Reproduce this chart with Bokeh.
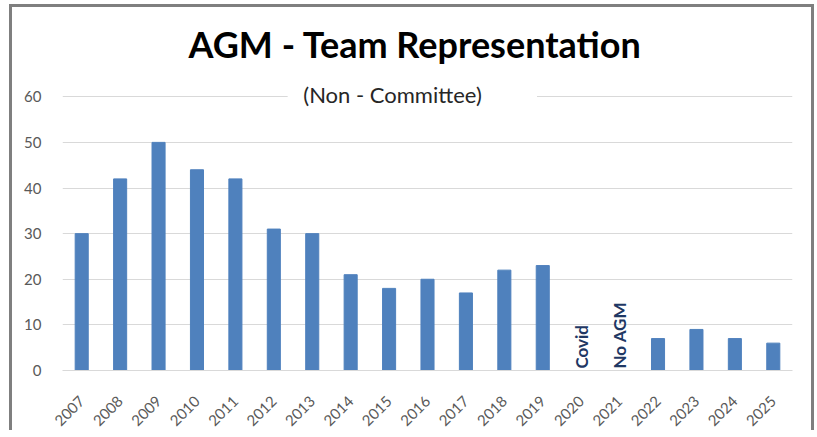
import math
from bokeh.plotting import figure
from bokeh.models import FactorRange, FixedTicker, Label, BoxAnnotation, ColumnDataSource
from bokeh.core.properties import value
from bokeh.embed import file_html
from bokeh.resources import INLINE

years = ["2007", "2008", "2009", "2010", "2011", "2012", "2013", "2014", "2015", "2016",
         "2017", "2018", "2019", "2020", "2021", "2022", "2023", "2024", "2025"]
teams = [30, 42, 50, 44, 42, 31, 30, 21, 18, 20, 17, 22, 23, 0, 0, 7, 9, 7, 6]
note_years = ["2020", "2021"]
note_texts = ["Covid", "No AGM"]
y_ticks = [0, 10, 20, 30, 40, 50, 60]

FONT = "Lato"

p = figure(width=805, height=426, x_range=FactorRange(*years, range_padding=0),
           y_range=(0, 64), output_backend="svg", toolbar_location=None,
           min_border_left=50, min_border_right=25, min_border_top=69, min_border_bottom=60)
p.styles = {"border-left": "3px solid #7f7f7f", "border-top": "3px solid #7f7f7f",
            "border-right": "3px solid #7f7f7f", "box-sizing": "border-box",
            "margin-left": "9px", "margin-top": "4px"}
p.outline_line_color = None
p.background_fill_color = "white"
p.border_fill_color = "white"

p.title.text = "AGM - Team Representation"
p.title.align = "left"
p.title.offset = 126
p.title.text_font = FONT
p.title.text_font_style = "bold"
p.title.text_font_size = "36px"
p.title.text_color = "black"
p.title.standoff = 25

src = ColumnDataSource(dict(x=years, top=teams))
p.vbar(x="x", top="top", width=0.34, source=src, color="#4f81bd")

notes = ColumnDataSource(dict(x=note_years, y=[0, 0], t=note_texts))
p.text(x="x", y="y", text="t", source=notes, angle=math.pi / 2, text_align="left",
       text_baseline="middle", y_offset=-2, text_font=value(FONT), text_font_style="bold",
       text_font_size="17px", text_color="#1f3864")

p.xgrid.grid_line_color = None
p.ygrid.grid_line_color = "#d9d9d9"
p.ygrid.grid_line_width = 1
p.yaxis.ticker = FixedTicker(ticks=y_ticks)
p.yaxis.axis_line_color = None
p.yaxis.major_tick_line_color = None
p.yaxis.minor_tick_line_color = None
p.yaxis.major_label_text_font = FONT
p.yaxis.major_label_text_font_size = "15px"
p.yaxis.major_label_text_color = "#595959"
p.yaxis.major_label_standoff = 15

p.xaxis.axis_line_color = "#d9d9d9"
p.xaxis.major_tick_line_color = None
p.xaxis.minor_tick_line_color = None
p.xaxis.major_label_orientation = math.pi / 4
p.xaxis.major_label_text_font = FONT
p.xaxis.major_label_text_font_size = "15px"
p.xaxis.major_label_text_color = "#595959"
p.xaxis.major_label_standoff = 22

gap = BoxAnnotation(left=5.86, right=12.35, bottom=59.3, top=60.7, fill_color="white",
                    fill_alpha=1, line_color=None)
p.add_layout(gap)

sub = Label(x=8.59, y=60.6, text="(Non - Committee)", text_align="center",
            text_baseline="middle", text_font=FONT, text_font_size="22px", text_color="#262626")
p.add_layout(sub)

open("out.html", "w").write(file_html(p, INLINE))
